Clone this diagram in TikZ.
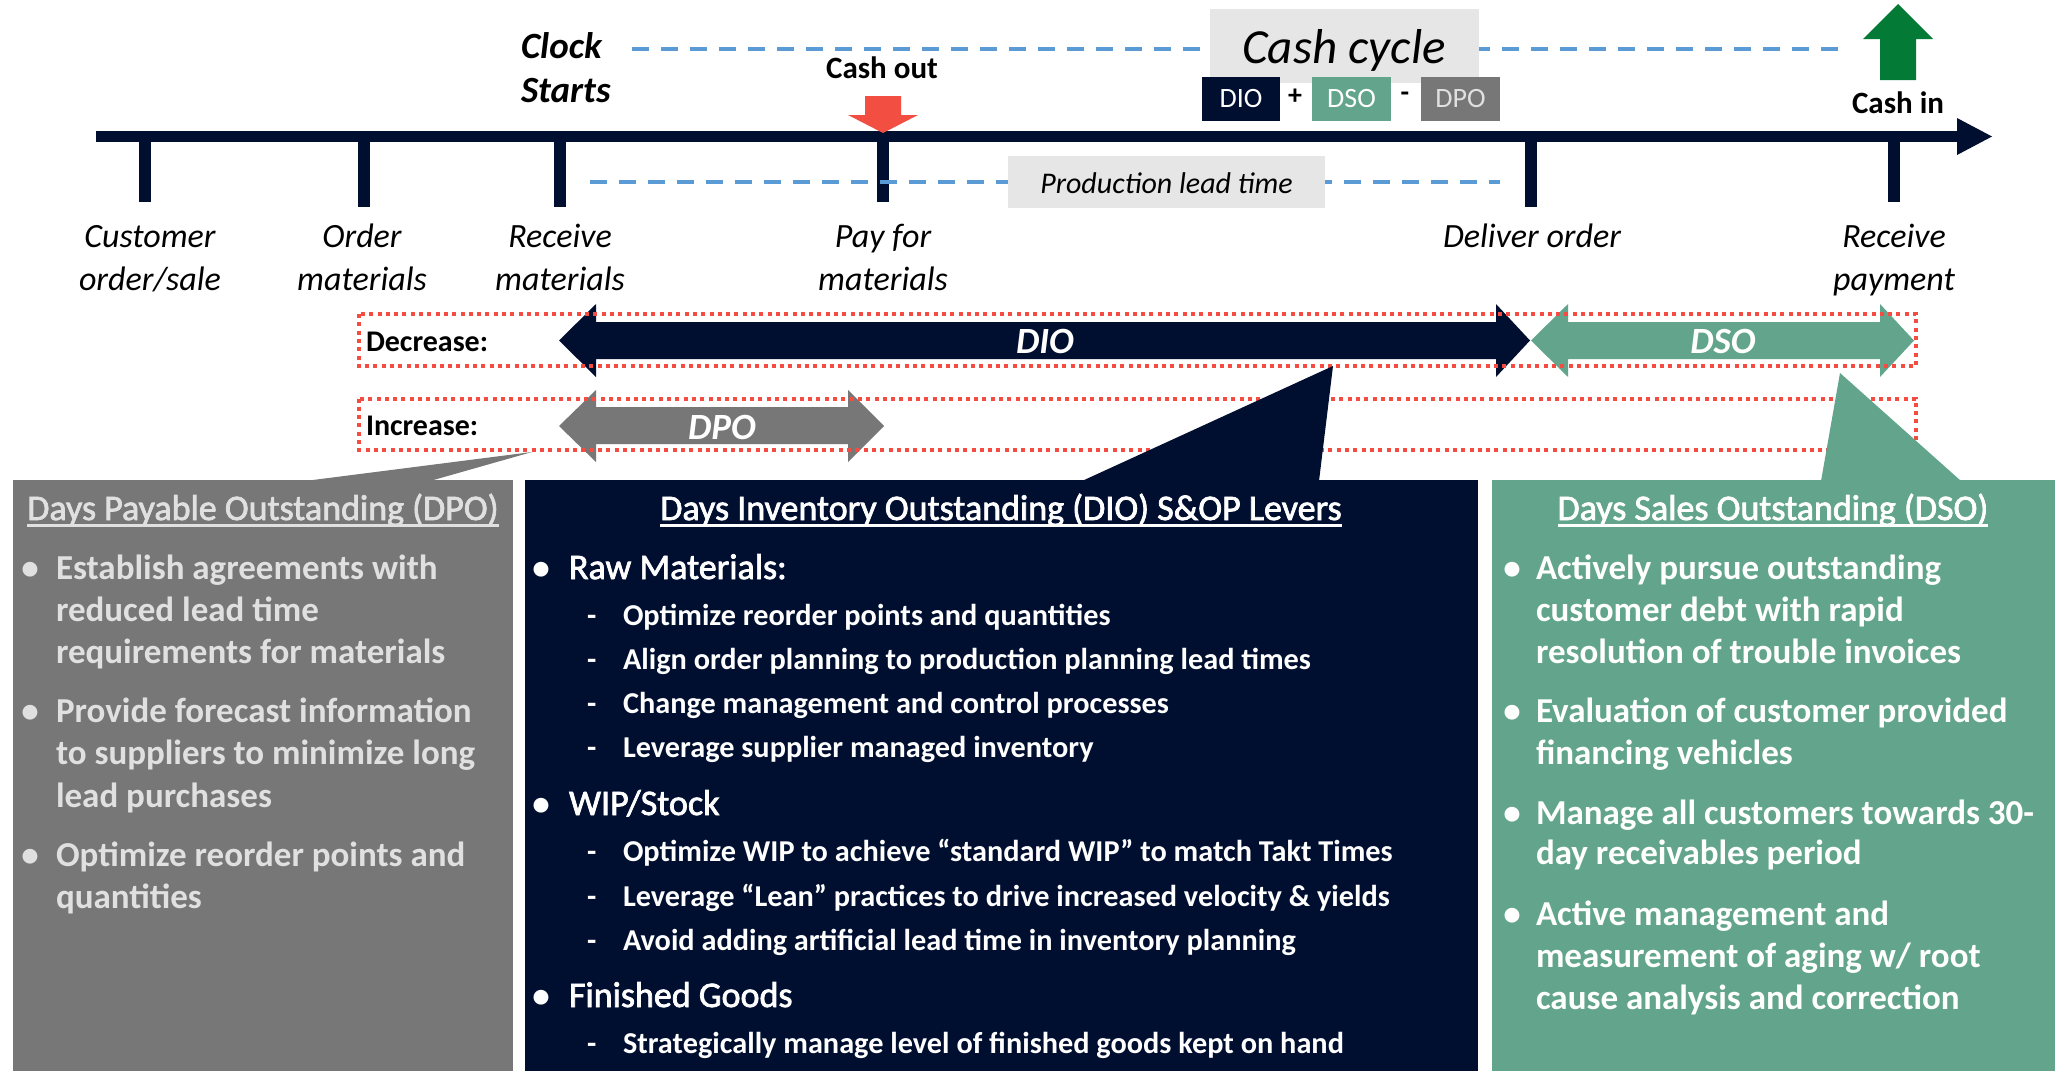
\documentclass[tikz,border=0pt]{standalone}
\usepackage{fontspec}
\setmainfont{Carlito}
\newfontfamily\medfont{Carlito}[FakeBold=2]
\definecolor{cnavy}{RGB}{0,15,48}
\definecolor{cteal}{RGB}{98,165,140}
\definecolor{cgray}{RGB}{119,119,119}
\definecolor{clgray}{RGB}{230,230,230}
\definecolor{cred}{RGB}{242,78,66}
\definecolor{cdot}{RGB}{245,76,66}
\definecolor{cgreen}{RGB}{3,122,54}
\definecolor{cblue}{RGB}{91,155,213}
\definecolor{cpale}{RGB}{224,224,224}
\newcommand\fs[1]{\fontsize{#1}{#1}\selectfont}
\newcommand\ulin[1]{\setbox0=\hbox{#1}\rlap{\rule[-6.5pt]{\wd0}{2.2pt}}\box0}
\tikzset{
  txt/.style={inner sep=0pt, outer sep=0pt},
  tlab/.style={txt, anchor=base, font=\fs{34}\itshape},
  bluedash/.style={draw=cblue, line width=4pt, dash pattern=on 17pt off 12pt},
  reddot/.style={draw=cdot, line width=4pt, dash pattern=on 4pt off 4.3pt},
  ttl/.style={txt, anchor=base, font=\medfont\fs{36}},
  gbul/.style={txt, anchor=base west, font=\fs{35}\bfseries, text=cpale},
  sbul/.style={txt, anchor=base west, font=\fs{35}\bfseries, text=white},
  dmain/.style={txt, anchor=base west, font=\medfont\fs{36}, text=white},
  dsub/.style={txt, anchor=base west, font=\fs{30.3}\bfseries, text=white},
  dot/.style={txt, anchor=base, font=\fs{35}\bfseries},
}
\begin{document}
\begin{tikzpicture}[x=1pt,y=-1pt]
\useasboundingbox (0,0) rectangle (2063,1071);
\fill[white] (0,0) rectangle (2063,1071);

% ---- top dashed line and cash cycle
\coordinate (d1a) at (632,49); \coordinate (d1b) at (1841,49);
\draw[bluedash] (d1a) -- (d1b);
\fill[clgray] (1210,9) rectangle (1479,83);
\node[txt, anchor=base, font=\fs{49}\itshape] (cc) at (1344,63) {Cash cycle};
\fill[cnavy] (1202,77) rectangle (1280,121);
\node[txt, font=\fs{28}, text=white] (bdio) at (1241,99) {DIO};
\node[txt, font=\fs{28}\bfseries] (plus) at (1295,97) {+};
\fill[cteal] (1312,77) rectangle (1391,121);
\node[txt, font=\fs{28}, text=white] (bdso) at (1351.5,99) {DSO};
\node[txt, font=\fs{28}\bfseries] (minus) at (1405,97) {-};
\fill[cgray] (1421,77) rectangle (1500,121);
\node[txt, font=\fs{28}, text=cpale] (bdpo) at (1460.5,99) {DPO};

% ---- timeline
\fill[cnavy] (96,131) rectangle (1958,142);
\fill[cnavy] (1957,118) -- (1992,136.5) -- (1957,155) -- cycle;
\foreach \x/\b in {145/202, 364/207, 560/207, 883/202, 1531/207, 1894/202}
  \fill[cnavy] (\x-6,136) rectangle (\x+6,\b);

% clock starts
\node[txt, anchor=base west, font=\fs{37}\bfseries\itshape] (clk) at (521,58) {Clock};
\node[txt, anchor=base west, font=\fs{37}\bfseries\itshape] (sts) at (521,102) {Starts};

% cash out
\node[txt, anchor=base, font=\fs{31}\bfseries] (cout) at (882,78) {Cash out};
\fill[cred] (865,96) -- (901,96) -- (901,115) -- (918,115) -- (883,133) -- (848,115) -- (865,115) -- cycle;

% cash in
\fill[cgreen] (1880,80) -- (1916,80) -- (1916,39) -- (1933,39) -- (1898,4) -- (1863,39) -- (1880,39) -- cycle;
\node[txt, anchor=base, font=\fs{31}\bfseries] (cin) at (1898,113) {Cash in};

% production lead time
\coordinate (d2a) at (590,182); \coordinate (d2b) at (1500,182);
\draw[bluedash] (d2a) -- (d2b);
\fill[clgray] (1008,156) rectangle (1325,208);
\node[txt, anchor=base, font=\fs{30}\itshape] (plt) at (1166.5,193) {Production lead time};

% timeline labels
\node[tlab] (l1a) at (150,247) {Customer};
\node[tlab] (l1b) at (150,290) {order/sale};
\node[tlab] (l2a) at (362,247) {Order};
\node[tlab] (l2b) at (362,290) {materials};
\node[tlab] (l3a) at (560,247) {Receive};
\node[tlab] (l3b) at (560,290) {materials};
\node[tlab] (l4a) at (883,247) {Pay for};
\node[tlab] (l4b) at (883,290) {materials};
\node[tlab] (l5a) at (1532,247) {Deliver order};
\node[tlab] (l6a) at (1894,247) {Receive};
\node[tlab] (l6b) at (1894,290) {payment};

% ---- horizontal arrows
\fill[cnavy] (559,340.5) -- (596,304) -- (596,322) -- (1496,322) -- (1496,304) -- (1530,340.5)
  -- (1496,377) -- (1496,359) -- (596,359) -- (596,377) -- cycle;
\node[txt, font=\fs{37}\bfseries\itshape, text=white] (tdio) at (1045,341) {DIO};
\fill[cteal] (1531,340.5) -- (1568,304) -- (1568,322) -- (1880,322) -- (1880,304) -- (1914,340.5)
  -- (1880,377) -- (1880,359) -- (1568,359) -- (1568,377) -- cycle;
\node[txt, font=\fs{37}\bfseries\itshape, text=white] (tdso) at (1723,341) {DSO};
\fill[cgray] (559,426) -- (596,390) -- (596,407) -- (848,407) -- (848,390) -- (884,426)
  -- (848,462) -- (848,444) -- (596,444) -- (596,462) -- cycle;
\node[txt, font=\fs{37}\bfseries\itshape, text=white] (tdpo) at (722,427) {DPO};

% dotted boxes
\draw[reddot] (359,314) rectangle (1916,366);
\draw[reddot] (359,398.5) rectangle (1916,450);
\node[txt, anchor=base west, font=\fs{30}\bfseries] (dec) at (366,351) {Decrease:};
\node[txt, anchor=base west, font=\fs{30}\bfseries] (inc) at (366,435) {Increase:};

% ---- callouts and bottom panels
\fill[cgray] (532,452) -- (305,481) -- (430,481) -- cycle;
\fill[cnavy] (1333,366) -- (1082,481) -- (1319,481) -- cycle;
\fill[cteal] (1840,373) -- (1821,481) -- (1961,481) -- cycle;
\fill[cgray] (12.5,480) rectangle (513,1071);
\fill[cnavy] (525,480) rectangle (1478,1071);
\fill[cteal] (1492,480) rectangle (2055,1071);

% DPO panel
\node[ttl, text=cpale] (t1) at (263,520) {\ulin{Days Payable Outstanding (DPO)}};
\node[dot, text=cpale] (g1) at (30,579) {•};
\node[gbul] (g1a) at (56,579) {Establish agreements with};
\node[gbul] (g1b) at (56,621) {reduced lead time};
\node[gbul] (g1c) at (56,663) {requirements for materials};
\node[dot, text=cpale] (g2) at (30,722) {•};
\node[gbul] (g2a) at (56,722) {Provide forecast information};
\node[gbul] (g2b) at (56,764) {to suppliers to minimize long};
\node[gbul] (g2c) at (56,807) {lead purchases};
\node[dot, text=cpale] (g3) at (30,866) {•};
\node[gbul] (g3a) at (56,866) {Optimize reorder points and};
\node[gbul] (g3b) at (56,908) {quantities};

% DIO panel
\node[ttl, text=white] (t2) at (1001,520) {\ulin{Days Inventory Outstanding (DIO) S\&OP Levers}};
\node[dot, text=white] (m1) at (541,579) {•};
\node[dmain] (m1a) at (569,579) {Raw Materials:};
\node[dsub] (s1) at (587,625) {-};
\node[dsub] (s1a) at (623,625) {Optimize reorder points and quantities};
\node[dsub] (s2) at (587,669) {-};
\node[dsub] (s2a) at (623,669) {Align order planning to production planning lead times};
\node[dsub] (s3) at (587,713) {-};
\node[dsub] (s3a) at (623,713) {Change management and control processes};
\node[dsub] (s4) at (587,757) {-};
\node[dsub] (s4a) at (623,757) {Leverage supplier managed inventory};
\node[dot, text=white] (m2) at (541,815) {•};
\node[dmain] (m2a) at (569,815) {WIP/Stock};
\node[dsub] (s5) at (587,861) {-};
\node[dsub] (s5a) at (623,861) {Optimize WIP to achieve “standard WIP” to match Takt Times};
\node[dsub] (s6) at (587,906) {-};
\node[dsub] (s6a) at (623,906) {Leverage “Lean” practices to drive increased velocity \& yields};
\node[dsub] (s7) at (587,950) {-};
\node[dsub] (s7a) at (623,950) {Avoid adding artificial lead time in inventory planning};
\node[dot, text=white] (m3) at (541,1007) {•};
\node[dmain] (m3a) at (569,1007) {Finished Goods};
\node[dsub] (s8) at (587,1053) {-};
\node[dsub] (s8a) at (623,1053) {Strategically manage level of finished goods kept on hand};

% DSO panel
\node[ttl, text=white] (t3) at (1773,520) {\ulin{Days Sales Outstanding (DSO)}};
\node[dot, text=white] (b1) at (1512,579) {•};
\node[sbul] (b1a) at (1536,579) {Actively pursue outstanding};
\node[sbul] (b1b) at (1536,621) {customer debt with rapid};
\node[sbul] (b1c) at (1536,663) {resolution of trouble invoices};
\node[dot, text=white] (b2) at (1512,722) {•};
\node[sbul] (b2a) at (1536,722) {Evaluation of customer provided};
\node[sbul] (b2b) at (1536,764) {financing vehicles};
\node[dot, text=white] (b3) at (1512,824) {•};
\node[sbul] (b3a) at (1536,824) {Manage all customers towards 30-};
\node[sbul] (b3b) at (1536,864) {day receivables period};
\node[dot, text=white] (b4) at (1512,925) {•};
\node[sbul] (b4a) at (1536,925) {Active management and};
\node[sbul] (b4b) at (1536,967) {measurement of aging w/ root};
\node[sbul] (b4c) at (1536,1009) {cause analysis and correction};
\end{tikzpicture}
\end{document}
